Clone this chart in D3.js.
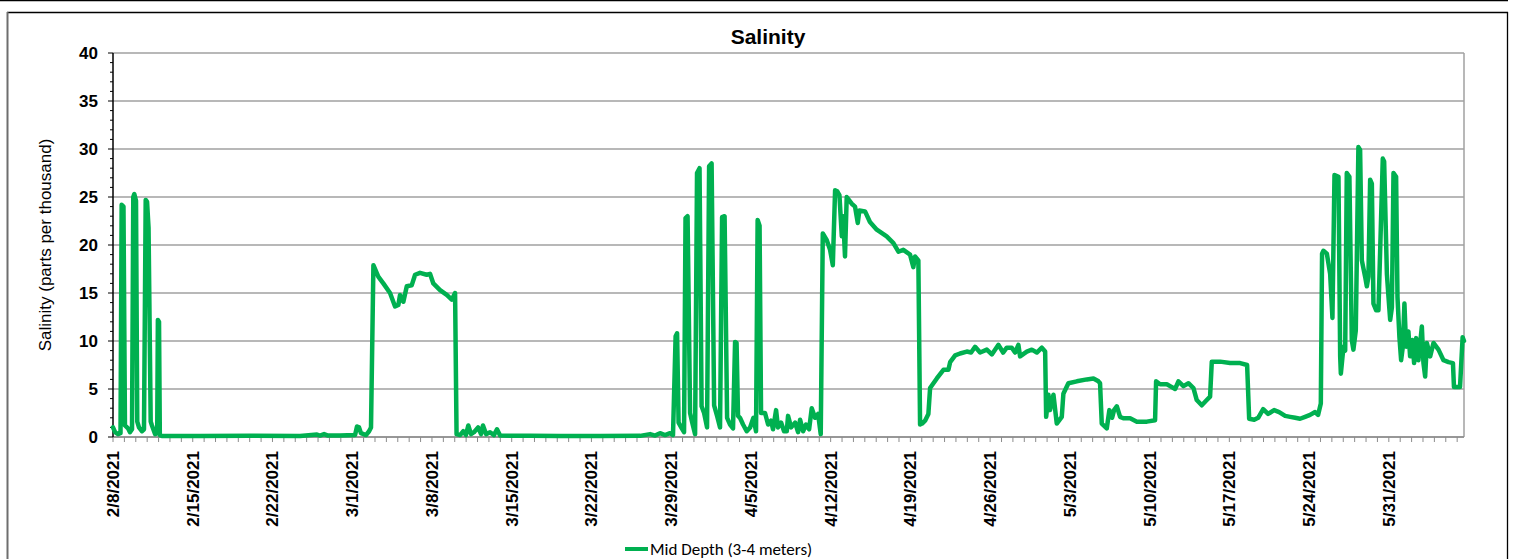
<!DOCTYPE html>
<html>
<head>
<meta charset="utf-8">
<title>Salinity</title>
<script src="https://cdn.jsdelivr.net/npm/d3@7"></script>
<style>
  html, body { margin: 0; padding: 0; background: #fff; }
  svg { display: block; }
</style>
</head>
<body>
<div id="chart"></div>
<script>
// series start (2/8/2021) and axis end, in days after the start
const startDate = '2021-02-08';
const axisEndDays = 118.6;

// days after 2/8/2021 and salinity (ppt)
const dayOffsets = [
  0, 0.18, 0.44, 0.66, 0.76, 0.92, 1.05, 1.32, 1.49, 1.67, 1.78, 1.87, 2.02, 2.13, 2.28, 2.55, 2.72, 2.87, 2.99, 3.12,
  3.31, 3.42, 3.69, 3.88, 3.94, 4.04, 4.11, 4.30, 7.64, 12.03, 16.42, 17.91, 18.17, 18.53, 18.88, 19.93, 21.25, 21.42, 21.60, 21.77,
  22.21, 22.48, 22.65, 22.86, 23.29, 23.73, 24.32, 24.76, 25.05, 25.20, 25.49, 25.79, 26.22, 26.52, 26.95, 27.54, 27.83, 28.12, 28.71, 29.30,
  29.74, 30.03, 30.16, 30.47, 30.75, 30.98, 31.19, 31.43, 31.69, 32.05, 32.31, 32.48, 32.75, 33.10, 33.45, 33.71, 33.98, 36.61, 39.25, 42.76,
  46.27, 47.15, 47.59, 48.02, 48.46, 48.90, 49.16, 49.39, 49.52, 49.65, 49.93, 50.13, 50.26, 50.44, 50.66, 50.83, 51.10, 51.27, 51.49, 51.67,
  51.89, 52.15, 52.33, 52.55, 52.77, 53.03, 53.29, 53.47, 53.69, 53.91, 54.17, 54.43, 54.61, 54.74, 54.87, 55.04, 55.31, 55.63, 55.93, 56.22,
  56.45, 56.59, 56.76, 56.89, 57.24, 57.51, 57.77, 57.94, 58.21, 58.38, 58.65, 58.91, 59.15, 59.26, 59.53, 59.88, 60.14, 60.32, 60.58, 60.84,
  61.11, 61.34, 61.63, 61.90, 62.13, 62.31, 62.66, 62.95, 63.19, 63.39, 63.57, 63.77, 63.98, 64.10, 64.26, 64.41, 64.85, 65.14, 65.38, 65.52,
  66.02, 66.45, 67.05, 67.92, 68.51, 68.95, 69.38, 69.97, 70.26, 70.41, 70.70, 70.85, 71.03, 71.29, 71.58, 71.73, 72.32, 72.90, 73.34, 73.49,
  73.93, 74.36, 74.95, 75.33, 75.68, 76.12, 76.71, 77.15, 77.73, 78.14, 78.46, 78.90, 79.19, 79.48, 79.63, 80.22, 80.66, 81.10, 81.54, 81.83,
  81.92, 82.12, 82.26, 82.56, 82.85, 83.29, 83.43, 83.87, 84.61, 85.49, 86.07, 86.51, 86.65, 86.80, 87.24, 87.47, 87.71, 87.88, 88.12, 88.41,
  88.70, 89.29, 89.88, 90.76, 91.48, 91.57, 91.92, 92.51, 92.80, 93.24, 93.53, 93.97, 94.41, 94.85, 95.14, 95.58, 96.02, 96.31, 96.46, 97.19,
  98.07, 98.95, 99.56, 99.74, 100.18, 100.53, 100.97, 101.40, 101.93, 102.37, 102.90, 103.34, 103.78, 104.21, 104.65, 105.09, 105.53, 105.79, 106.03, 106.14,
  106.26, 106.56, 106.85, 107.05, 107.23, 107.58, 107.73, 107.79, 108.02, 108.17, 108.31, 108.54, 108.75, 108.89, 109.10, 109.33, 109.48, 109.63, 109.92, 110.07,
  110.21, 110.36, 110.51, 110.65, 110.89, 111.09, 111.47, 111.59, 111.83, 111.97, 112.12, 112.27, 112.41, 112.64, 112.76, 112.93, 113.08, 113.23, 113.37, 113.52,
  113.72, 113.87, 114.07, 114.22, 114.40, 114.60, 114.90, 115.04, 115.19, 115.34, 115.63, 115.92, 116.36, 116.80, 117.24, 117.63, 117.72, 118.25, 118.48, 118.60
];
const salinity = [
  1.0, 0.5, 0.3, 0.4, 24.2, 24.0, 1.2, 0.9, 0.5, 0.8, 25.0, 25.3, 24.6, 1.6, 1.0, 0.6, 0.8, 24.7, 24.5, 21.8,
  1.6, 1.2, 0.3, 0.4, 12.2, 12.0, 0.2, 0.1, 0.1, 0.12, 0.1, 0.25, 0.15, 0.3, 0.15, 0.15, 0.2, 1.1, 1.0, 0.4,
  0.2, 0.6, 1.0, 17.9, 16.7, 16.0, 15.0, 13.6, 13.75, 14.8, 14.1, 15.7, 15.8, 16.9, 17.1, 16.9, 17.0, 16.0, 15.3, 14.8,
  14.3, 15.0, 0.3, 0.2, 0.6, 0.2, 1.2, 0.3, 0.5, 1.0, 0.3, 1.2, 0.3, 0.5, 0.2, 0.8, 0.15, 0.12, 0.1, 0.1,
  0.12, 0.3, 0.15, 0.4, 0.2, 0.4, 0.2, 10.5, 10.8, 1.5, 0.9, 0.5, 22.8, 23.0, 2.5, 1.6, 0.3, 27.5, 28.0, 3.2,
  2.5, 1.0, 28.2, 28.5, 3.3, 2.2, 1.0, 22.9, 23.0, 2.0, 1.3, 0.9, 9.9, 9.8, 2.2, 2.0, 1.3, 0.6, 1.0, 2.0,
  0.6, 22.6, 22.0, 2.5, 2.5, 1.3, 1.7, 0.8, 2.8, 1.0, 1.5, 0.6, 0.6, 2.2, 1.0, 1.5, 0.5, 1.8, 0.6, 1.3,
  0.8, 3.0, 2.0, 2.4, 0.3, 21.2, 20.5, 19.5, 17.9, 25.7, 25.6, 25.2, 20.9, 23.0, 18.8, 25.0, 24.3, 24.0, 22.3, 23.6,
  23.5, 22.4, 21.6, 20.9, 20.2, 19.3, 19.5, 19.0, 17.7, 18.8, 18.4, 1.3, 1.4, 1.7, 2.4, 5.1, 6.1, 7.0, 7.0, 7.8,
  8.5, 8.7, 8.9, 8.8, 9.4, 8.8, 9.1, 8.6, 9.6, 8.8, 9.3, 9.3, 8.8, 9.6, 8.4, 8.9, 9.1, 8.8, 9.3, 8.9,
  2.1, 4.4, 2.8, 4.4, 1.4, 2.1, 4.5, 5.6, 5.8, 6.0, 6.1, 5.8, 5.6, 1.4, 0.9, 2.8, 2.0, 2.8, 3.2, 2.1,
  1.95, 1.95, 1.6, 1.6, 1.75, 5.8, 5.5, 5.5, 5.3, 5.0, 5.8, 5.3, 5.6, 5.1, 3.85, 3.3, 3.85, 4.2, 7.85, 7.85,
  7.7, 7.7, 7.5, 1.9, 1.8, 2.0, 2.9, 2.4, 2.8, 2.6, 2.2, 2.1, 2.0, 1.9, 2.1, 2.3, 2.6, 2.3, 3.5, 19.1,
  19.4, 19.1, 17.0, 12.4, 27.3, 27.1, 8.4, 6.6, 9.4, 9.0, 27.5, 27.1, 10.1, 9.1, 11.1, 30.2, 29.9, 18.4, 16.7, 15.7,
  16.7, 26.8, 26.4, 13.9, 13.2, 13.2, 29.0, 28.7, 17.0, 14.6, 12.2, 13.5, 27.5, 27.1, 14.6, 10.4, 8.0, 9.4, 13.9, 9.4,
  11.0, 8.4, 10.1, 7.7, 10.3, 8.0, 11.5, 7.7, 6.3, 9.8, 8.4, 9.8, 9.1, 8.0, 7.8, 7.7, 5.2, 5.2, 10.4, 10.0
];

const yTicks = [0, 5, 10, 15, 20, 25, 30, 35, 40];
const labelDates = ['2021-02-08', '2021-02-15', '2021-02-22', '2021-03-01', '2021-03-08', '2021-03-15', '2021-03-22',
  '2021-03-29', '2021-04-05', '2021-04-12', '2021-04-19', '2021-04-26', '2021-05-03', '2021-05-10', '2021-05-17',
  '2021-05-24', '2021-05-31'];
const seriesName = 'Mid Depth (3-4 meters)';

const width = 1517, height = 559;
const margin = { top: 53, right: 53, bottom: 122, left: 113 };
const green = '#00B050';
const font = '"Liberation Sans", Arial, sans-serif';

const parse = d3.utcParse('%Y-%m-%d');
const fmt = d3.utcFormat('%-m/%-d/%Y');
const t0 = parse(startDate);
const dayMs = 864e5;
const toDate = d => new Date(t0.getTime() + d * dayMs);

const points = dayOffsets.map((d, i) => ({ date: toDate(d), value: salinity[i] }));

const x = d3.scaleUtc()
  .domain([t0, toDate(axisEndDays)])
  .range([margin.left, width - margin.right]);
const y = d3.scaleLinear()
  .domain([0, 40])
  .range([height - margin.bottom, margin.top]);

const svg = d3.select('#chart').append('svg')
  .attr('width', width)
  .attr('height', height)
  .style('font-family', font);

svg.append('rect').attr('width', width).attr('height', height).attr('fill', '#fff');

// page rule and outer chart frame
svg.append('line')
  .attr('x1', 0).attr('x2', 1508).attr('y1', 0.5).attr('y2', 0.5)
  .attr('stroke', '#000').attr('stroke-width', 1.5);
const frame = svg.append('g').attr('fill', 'none');
frame.append('line').attr('x1', 7).attr('x2', 1508).attr('y1', 12.5).attr('y2', 12.5)
  .attr('stroke', '#000').attr('stroke-width', 1.3);
frame.append('line').attr('x1', 7.5).attr('x2', 7.5).attr('y1', 12).attr('y2', height)
  .attr('stroke', '#6e6e6e').attr('stroke-width', 2);
frame.append('line').attr('x1', 1507.5).attr('x2', 1507.5).attr('y1', 12).attr('y2', height)
  .attr('stroke', '#000').attr('stroke-width', 1.3);

const [px0, px1] = x.range();
const [py0, py1] = y.range();

// gridlines
svg.append('g')
  .selectAll('line')
  .data(yTicks)
  .join('line')
  .attr('x1', px0).attr('x2', px1)
  .attr('y1', d => y(d)).attr('y2', d => y(d))
  .attr('stroke', '#a0a0a0').attr('stroke-width', 1.3);

// plot border on the right
svg.append('line')
  .attr('x1', px1).attr('x2', px1).attr('y1', py1).attr('y2', py0)
  .attr('stroke', '#a0a0a0').attr('stroke-width', 1.5);

// x axis: daily ticks, weekly labels
const xAxis = svg.append('g');
xAxis.append('line')
  .attr('x1', px0).attr('x2', px1).attr('y1', py0).attr('y2', py0)
  .attr('stroke', '#8c8c8c').attr('stroke-width', 1.5);
xAxis.selectAll('line.tick')
  .data(d3.utcDay.range(t0, x.domain()[1]))
  .join('line')
  .attr('class', 'tick')
  .attr('x1', d => x(d)).attr('x2', d => x(d))
  .attr('y1', py0).attr('y2', py0 + 5)
  .attr('stroke', '#8c8c8c').attr('stroke-width', 1);
xAxis.selectAll('text')
  .data(labelDates.map(parse))
  .join('text')
  .attr('transform', d => `translate(${x(d)},${py0 + 14}) rotate(-90)`)
  .attr('dy', '0.35em')
  .attr('text-anchor', 'end')
  .attr('font-size', 17)
  .attr('font-weight', 'bold')
  .attr('fill', '#000')
  .text(d => fmt(d));

// y axis: a tick every unit, longer every 5
const yAxis = svg.append('g');
yAxis.selectAll('line.minor')
  .data(d3.range(0, 41))
  .join('line')
  .attr('class', 'minor')
  .attr('x1', d => px0 - (d % 5 === 0 ? 5 : 3)).attr('x2', px0)
  .attr('y1', d => y(d)).attr('y2', d => y(d))
  .attr('stroke', '#000').attr('stroke-width', 1);
yAxis.append('line')
  .attr('x1', px0).attr('x2', px0).attr('y1', py1).attr('y2', py0)
  .attr('stroke', '#000').attr('stroke-width', 1.5);
yAxis.selectAll('text')
  .data(yTicks)
  .join('text')
  .attr('x', px0 - 15)
  .attr('y', d => y(d))
  .attr('dy', '0.36em')
  .attr('text-anchor', 'end')
  .attr('font-size', 17)
  .attr('font-weight', 'bold')
  .text(d => d);

svg.append('text')
  .attr('transform', `translate(51,${(py0 + py1) / 2}) rotate(-90)`)
  .attr('text-anchor', 'middle')
  .attr('font-size', 17)
  .text('Salinity (parts per thousand)');

// series line
const line = d3.line()
  .x(d => x(d.date))
  .y(d => y(d.value));
svg.append('path')
  .datum(points)
  .attr('fill', 'none')
  .attr('stroke', green)
  .attr('stroke-width', 4.5)
  .attr('stroke-linejoin', 'round')
  .attr('stroke-linecap', 'round')
  .attr('d', line);

// title
svg.append('text')
  .attr('x', 768)
  .attr('y', 44)
  .attr('text-anchor', 'middle')
  .attr('font-size', 21)
  .attr('font-weight', 'bold')
  .text('Salinity');

// legend
const legend = svg.append('g').attr('transform', 'translate(625,549)');
legend.append('line')
  .attr('x1', 0).attr('x2', 23)
  .attr('stroke', green).attr('stroke-width', 4);
legend.append('text')
  .attr('x', 25)
  .attr('dy', '0.33em')
  .attr('font-family', 'Carlito, Calibri, Lato, sans-serif')
  .attr('font-size', 17)
  .text(seriesName);
</script>
</body>
</html>
